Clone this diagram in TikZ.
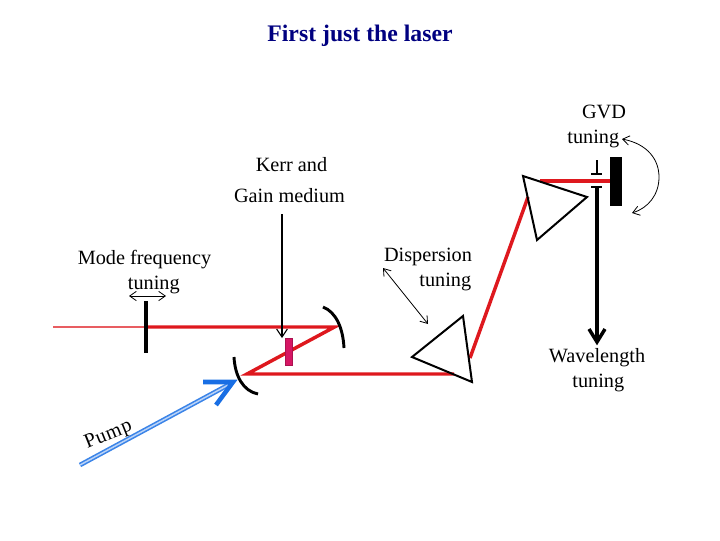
\documentclass[tikz,border=0pt]{standalone}
\usepackage{fontspec}
\setmainfont{Liberation Serif}
\usepackage{xcolor}
\newlength{\vdist}
\usetikzlibrary{positioning}
\usetikzlibrary{arrows.meta}
\definecolor{beamred}{RGB}{222,24,30}
\definecolor{pumpblue}{RGB}{24,110,228}
\definecolor{gainpink}{RGB}{214,22,100}
\definecolor{titleblue}{RGB}{0,0,128}
\tikzstyle{label}=[inner sep=0pt, text height=10pt, text depth=3pt, font=\fontsize{15.2}{17}\selectfont]
\tikzstyle{beam}=[draw=beamred, line width=2.6pt]
\tikzstyle{optic}=[draw=black, line width=1.5pt, line join=miter]
\tikzstyle{mirror}=[draw=black, line width=2.2pt]
\tikzstyle{tune}=[black, line width=0.6pt, {Straight Barb[length=5pt,width=7pt]}-{Straight Barb[length=5pt,width=7pt]}]

\begin{document}
\begin{tikzpicture}[x=0.75pt, y=-0.75pt]
	\useasboundingbox (0,0) rectangle (720,540);
	\setlength{\vdist}{5.4pt}

	\node (title) at (360,36) [inner sep=0pt, text=titleblue, font=\bfseries\fontsize{17.8}{20}\selectfont] {First just the laser};

	% beam path
	\coordinate (in) at (53,327);
	\coordinate (etalon) at (146,327);
	\coordinate (foldr) at (334.5,327);
	\coordinate (foldl) at (247,374);
	\coordinate (p1in) at (454,374);
	\coordinate (p1out) at (470,358);
	\coordinate (p2in) at (528,197);
	\coordinate (p2out) at (540,181);
	\coordinate (end) at (610,181);
	\draw [draw=beamred!70!white, line width=1pt] (in) to (etalon);
	\draw [beam, line join=miter] (etalon) -- (foldr) -- (foldl) -- (p1in);
	\draw [beam] (p1out) to (p2in);
	\draw [beam] (p2out) to (end);

	% mirrors and prisms
	\coordinate (m1a) at (323,307);
	\coordinate (m1b) at (344,348);
	\coordinate (m2a) at (234,357);
	\coordinate (m2b) at (258,394);
	\draw [mirror] (m1a) .. controls (336,312) and (343,328) .. (m1b);
	\draw [mirror] (m2a) .. controls (235,376) and (243,391) .. (m2b);
	\coordinate (e1) at (146,301);
	\coordinate (e2) at (146,353);
	\draw [draw=black, line width=2.8pt] (e1) to (e2);
	\node (gain) at (288.5,352) [draw=gainpink!80!black, fill=gainpink, line width=0.4pt, minimum width=5.5pt, minimum height=20.5pt, inner sep=0pt] {};
	\node (gvd) at (616,181.5) [fill=black, minimum width=9pt, minimum height=36.8pt, inner sep=0pt] {};
	\coordinate (a1) at (412,357);
	\coordinate (a2) at (463,316);
	\coordinate (a3) at (472,382);
	\draw [optic] (a1) -- (a2) -- (a3) -- cycle;
	\coordinate (b1) at (523,176);
	\coordinate (b2) at (587,197);
	\coordinate (b3) at (537,240);
	\draw [optic] (b1) -- (b2) -- (b3) -- cycle;

	% output
	\coordinate (w0) at (597,160);
	\coordinate (w1) at (597,174);
	\coordinate (w2) at (597,187);
	\coordinate (w3) at (597,342);
	\draw [line width=1.8pt] (w0) to (w1);
	\draw [line width=1pt] ([xshift=-4.5pt]w1) to ([xshift=4pt]w1);
	\draw [line width=1pt] ([xshift=-4.5pt]w2) to ([xshift=4pt]w2);
	\draw [line width=2.4pt] (w2) to (w3);
	\coordinate (t1) at (589,329);
	\coordinate (t2) at (605,329);
	\draw [line width=2.6pt, line join=miter] (t1) -- (w3) -- (t2);

	% pump
	\coordinate (p0) at (80,465);
	\coordinate (p1) at (230,384);
	\coordinate (h1) at (203,382);
	\coordinate (h2) at (233,382);
	\coordinate (h3) at (216,405);
	\draw [draw=pumpblue!85!white, double=white!70!pumpblue, double distance=1.1pt, line width=1.2pt] (p0) to (p1);
	\draw [draw=pumpblue, line width=3.4pt, line join=miter] (h1) -- (h2) -- (h3);

	% tuning arrows
	\coordinate (f1) at (129,296);
	\coordinate (f2) at (166,296);
	\draw [tune] (f1) to (f2);
	\coordinate (d1) at (383,268);
	\coordinate (d2) at (428,324);
	\draw [tune] (d1) to (d2);
	\coordinate (c1) at (622,139);
	\coordinate (c2) at (632,213);
	\draw [tune] (c1) .. controls (648,144) and (659,160) .. (659,177) .. controls (659,195) and (648,208) .. (c2);
	\coordinate (k1) at (282,214);
	\coordinate (k2) at (282,338);
	\draw [line width=0.8pt, -{Straight Barb[length=6pt,width=8pt]}] (k1) to (k2);

	% labels
	\node (mode) at (144.5,260) [label] {Mode frequency};
	\node (modeb) [label, below=\vdist of mode, xshift=7pt] {tuning};
	\node (kerr) at (291.5,167) [label] {Kerr and};
	\node (kerrb) at (289.5,198) [label] {Gain medium};
	\node (disp) at (428,257) [label] {Dispersion};
	\node (dispb) [label, below=\vdist of disp, xshift=13pt] {tuning};
	\node (gvdl) at (604,114) [label] {GVD};
	\node (gvdb) [label, below=\vdist of gvdl, xshift=-8pt] {tuning};
	\node (wave) at (597,358) [label] {Wavelength};
	\node (waveb) [label, below=\vdist of wave, xshift=1pt] {tuning};
	\node (pump) at (108.5,435) [label, rotate=22] {\addfontfeatures{LetterSpace=3}Pump};
\end{tikzpicture}
\end{document}
